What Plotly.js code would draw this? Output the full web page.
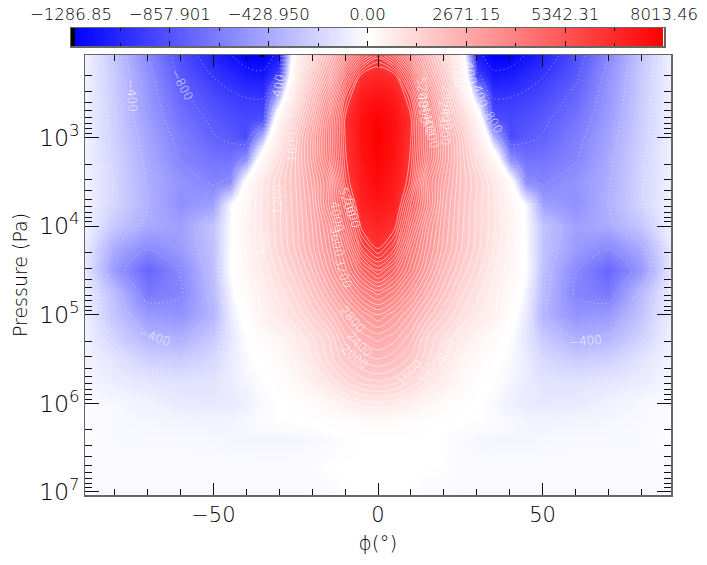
<!DOCTYPE html>
<html>
<head>
<meta charset="utf-8">
<script src="https://cdn.plot.ly/plotly-3.0.1.min.js"></script>
<style>html,body{margin:0;padding:0;background:#fff}</style>
</head>
<body>
<div id="myPlot" style="width:707px;height:565px"></div>
<script>
// latitude (deg)
var lat = [-89,-80,-70,-60,-50,-45,-40,-35,-30,-25,-20,-15,-10,-5,0,5,10,15,20,25,30,35,40,45,50,60,70,80,89];

// pressure (Pa)
var pressure = [1.2e2,2e2,3.55e2,6.3e2,1e3,1.78e3,3.16e3,5.62e3,1e4,1.78e4,3.16e4,5.62e4,1e5,1.78e5,3.16e5,5.62e5,1e6,1.58e6,2.51e6,5.01e6,1.07e7];

// zonal wind, one row per pressure level
var wind = [
  [-70,-290,-600,-880,-1110,-1190,-1270,-1286.5,-1150,400,1300,2400,3800,5100,5900,5100,3800,2400,1300,400,-1150,-1280,-1270,-1190,-1110,-880,-600,-290,-70],
  [-70,-270,-550,-830,-1010,-1080,-1150,-1170,-950,600,1700,3000,5000,6500,6800,6500,5000,3000,1700,600,-950,-1170,-1150,-1080,-1010,-830,-550,-270,-70],
  [-70,-260,-520,-760,-900,-960,-1000,-1010,-300,1000,2300,3900,6000,7200,7500,7200,6000,3900,2300,1000,-300,-1010,-1000,-960,-900,-760,-520,-260,-70],
  [-70,-250,-490,-700,-830,-880,-920,-880,400,1500,2800,4500,6450,7500,7950,7500,6450,4500,2800,1500,400,-880,-920,-880,-830,-700,-490,-250,-70],
  [-70,-240,-460,-650,-790,-830,-900,-350,700,1900,3100,4600,6400,7500,8013,7500,6400,4600,3100,1900,700,-350,-900,-830,-790,-650,-460,-240,-70],
  [-70,-220,-430,-610,-700,-710,-550,300,1100,2000,3100,4500,6300,7400,7900,7400,6300,4500,3100,2000,1100,300,-550,-710,-700,-610,-430,-220,-70],
  [-65,-210,-410,-540,-620,-580,100,800,1400,2000,2850,3900,6100,7200,7700,7200,6100,3900,2850,2000,1400,800,100,-580,-620,-540,-410,-210,-65],
  [-60,-215,-395,-560,-480,-50,300,850,1350,1950,2700,4000,5400,7000,7300,7000,5400,4000,2700,1950,1350,850,300,-50,-480,-560,-395,-215,-60],
  [-60,-290,-430,-480,-300,-30,350,850,1350,1900,2600,3500,4900,6500,6900,6500,4900,3500,2600,1900,1350,850,350,-30,-300,-480,-430,-290,-60],
  [-110,-430,-590,-500,-310,-20,320,800,1300,1850,2500,3300,4300,5800,6450,5800,4300,3300,2500,1850,1300,800,320,-20,-310,-500,-590,-430,-110],
  [-120,-520,-770,-590,-320,-10,280,650,1100,1600,2200,3000,3900,4800,5400,4800,3900,3000,2200,1600,1100,650,280,-10,-320,-590,-770,-520,-120],
  [-80,-350,-680,-620,-340,-70,150,500,880,1300,1850,2500,3200,3900,4300,3900,3200,2500,1850,1300,880,500,150,-70,-340,-620,-680,-350,-80],
  [-80,-300,-510,-540,-380,-110,60,450,700,1000,1450,1950,2550,3050,3400,3050,2550,1950,1450,1000,700,450,60,-110,-380,-540,-510,-300,-80],
  [-70,-230,-380,-410,-270,-130,-5,150,370,650,1000,1400,2100,2500,2700,2500,2100,1400,1000,650,370,150,-5,-130,-270,-410,-380,-230,-70],
  [-60,-140,-240,-260,-200,-100,-30,20,150,450,800,1250,1750,2050,2200,2050,1750,1250,800,450,150,20,-30,-100,-200,-260,-240,-140,-60],
  [-50,-100,-130,-150,-140,-100,-50,-5,40,250,520,850,1200,1500,1600,1500,1200,850,520,250,40,-5,-50,-100,-140,-150,-130,-100,-50],
  [-20,-40,-70,-110,-120,-110,-80,-30,0,40,130,300,500,680,750,680,500,300,130,40,0,-30,-80,-110,-120,-110,-70,-40,-20],
  [-20,-35,-45,-55,-60,-55,-40,-15,-5,0,5,40,90,130,150,130,90,40,5,0,-5,-15,-40,-55,-60,-55,-45,-35,-20],
  [-5,-35,-35,-35,-40,-50,-50,-55,-55,-50,-40,-30,-15,-2,0,0,0,0,-2,-30,-45,-50,-50,-50,-40,-35,-35,-35,-5],
  [-28,-30,-30,-30,-30,-30,-30,-30,-30,-28,-22,-3,0,0,0,0,0,0,-3,-25,-30,-30,-30,-30,-30,-30,-30,-30,-28],
  [-28,-28,-28,-30,-30,-30,-30,-30,-30,-30,-28,-25,-5,0,0,0,-3,-25,-28,-30,-30,-30,-30,-30,-30,-30,-28,-28,-28]
];

// colour bar: evenly spaced ticks, each half has its own scale
var barPos = [-3,-2,-1,0,1,2,3];
var barLabels = ['\u22121286.85','\u2212857.901','\u2212428.950','0.00','2671.15','5342.31','8013.46'];
var barX = [-3,0,3];
var barZ = [-1286.85,0,8013.46];

// contour labels as they sit in the picture: text, latitude, log10 pressure, rotation
var labelText = ['\u2212400','\u2212800','400','1600','1200','800','400','\u2212400','5600','5200','4000','3600','3200','2800','2400','2000','1600','1200','800','400','\u2212400','5200','4800','4400','4000','2000','1600','2800','2400','3200','400','400','800'];
var labelLat = [-74.8,-59.6,-30.1,-25.8,-30.4,-35,-35.3,-68,-7.6,-9.4,-12.5,-12.5,-10.6,-7.6,-5.5,-7,9.7,15.8,21,27,63,13.4,13.7,15.2,16.1,24,24.6,21,20.4,20.1,28,31,35];
var labelLogP = [2.53,2.41,2.41,3.11,3.69,4.19,4.93,5.25,3.86,3.73,3.9,4.18,4.53,5.06,5.34,5.48,5.65,5.63,5.4,5.43,5.3,2.49,2.67,2.81,2.95,2.27,2.41,2.58,2.75,2.92,2.27,2.53,2.83];
var labelAngle = [85,62,-80,-85,-90,-90,75,18,75,72,80,80,72,50,45,40,-45,-55,-70,-60,-5,85,85,80,75,80,80,85,80,85,80,70,60];

var zMin = -1286.85;
var zMax = 8013.46;
var mid = (0 - zMin) / (zMax - zMin);
var scale = [[0,'rgb(0,0,0)'],[0.0003,'rgb(0,0,0)'],[0.0004,'rgb(0,0,255)'],[mid,'rgb(255,255,255)'],[1,'rgb(255,0,0)']];
var barScale = [[0,'rgb(0,0,0)'],[0.0015,'rgb(0,0,0)'],[0.0016,'rgb(0,0,255)'],[mid,'rgb(255,255,255)'],[0.9945,'rgb(255,0,0)'],[0.995,'rgb(255,255,255)'],[1,'rgb(255,255,255)']];

var fontName = '"DejaVu Sans", sans-serif';
var lineWhite = 'rgba(255,255,255,0.65)';

function contourTrace(start, end, dash) {
  return {
    type: 'contour', x: lat, y: pressure, z: wind,
    autocontour: false,
    contours: {start: start, end: end, size: 200, coloring: 'none', showlabels: false},
    line: {color: lineWhite, width: 0.8, dash: dash, smoothing: 0.9},
    showscale: false, hoverinfo: 'skip'
  };
}

var data = [
  {type: 'heatmap', x: lat, y: pressure, z: wind, zmin: zMin, zmax: zMax, colorscale: scale,
    zsmooth: 'best', showscale: false, hoverinfo: 'skip'},
  contourTrace(200, 6400, 'solid'),
  contourTrace(-1200, -200, '1px,3px'),
  {type: 'heatmap', x: barX, y: [0,1], z: [barZ, barZ], zmin: zMin, zmax: zMax, colorscale: barScale,
    zsmooth: 'best', showscale: false, xaxis: 'x2', yaxis: 'y2', hoverinfo: 'skip'}
];

var labels = [];
for (let index = 0; index < labelText.length; index++) {
  labels.push({
    xref: 'x', yref: 'y', x: labelLat[index], y: labelLogP[index],
    text: labelText[index], textangle: labelAngle[index], showarrow: false,
    font: {family: fontName, size: 12, weight: 200, color: 'rgba(255,255,255,0.85)'}
  });
}

var layout = {
  width: 707, height: 565,
  margin: {l: 0, r: 0, t: 0, b: 0},
  paper_bgcolor: '#fff', plot_bgcolor: '#fff',
  showlegend: false,
  font: {family: fontName, color: '#000', size: 20},
  annotations: labels,
  xaxis: {
    domain: [85/707, 671/707], range: [-89, 89], anchor: 'y',
    tickvals: [-50,0,50], ticks: 'inside', ticklen: 12, tickcolor: '#111', tickwidth: 1,
    minor: {dtick: 10, ticks: 'inside', ticklen: 6, tickcolor: '#111'},
    showline: true, linecolor: '#666', linewidth: 1.5, mirror: 'ticks',
    showgrid: false, zeroline: false,
    tickfont: {family: fontName, color: '#000', size: 21, weight: 200},
    title: {text: '\u03d5(\u00b0)', font: {family: fontName, color: '#000', size: 20, weight: 200}, standoff: 10}
  },
  yaxis: {
    domain: [1-495/565, 1-55/565], type: 'log', range: [7.035, 2.07], anchor: 'x',
    dtick: 1, exponentformat: 'power', ticks: 'inside', ticklen: 14, tickcolor: '#111', tickwidth: 1,
    minor: {dtick: 'D1', ticks: 'inside', ticklen: 7, tickcolor: '#111'},
    showline: true, linecolor: '#666', linewidth: 1.5, mirror: 'ticks',
    showgrid: false, zeroline: false,
    tickfont: {family: fontName, color: '#000', size: 19, weight: 200},
    title: {text: 'Pressure (Pa)', font: {family: fontName, color: '#000', size: 19, weight: 200}, standoff: 6}
  },
  xaxis2: {
    domain: [71/707, 664/707], range: [-3, 3], anchor: 'y2', side: 'top',
    tickvals: barPos, ticktext: barLabels, ticks: 'inside', ticklen: 5, tickcolor: '#111',
    minor: {dtick: 0.5, ticks: 'inside', ticklen: 3, tickcolor: '#111'},
    showline: true, linecolor: '#666', linewidth: 1.5, mirror: 'ticks',
    showgrid: false, zeroline: false,
    tickfont: {family: fontName, color: '#000', size: 16.5, weight: 200}
  },
  yaxis2: {
    domain: [1-46/565, 1-28/565], range: [0, 1], anchor: 'x2',
    ticks: '', showticklabels: false, showline: true, linecolor: '#666', linewidth: 1.5, mirror: true,
    showgrid: false, zeroline: false
  }
};

Plotly.newPlot('myPlot', data, layout, {displayModeBar: false, staticPlot: true});
</script>
</body>
</html>
